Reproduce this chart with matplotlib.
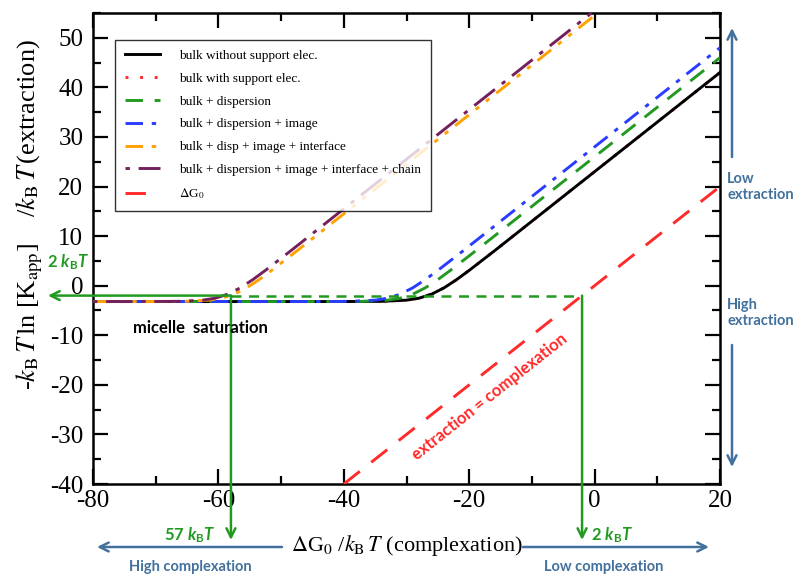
import matplotlib
matplotlib.use("Agg")
import matplotlib.pyplot as plt
from matplotlib.ticker import MultipleLocator

plt.rcParams['font.family'] = ['Liberation Serif', 'DejaVu Serif']
plt.rcParams['axes.unicode_minus'] = False
plt.rcParams['mathtext.fontset'] = 'custom'
plt.rcParams['mathtext.rm'] = 'Lato:bold'
plt.rcParams['mathtext.it'] = 'Lato:bold:italic'
plt.rcParams['mathtext.bf'] = 'Lato:bold'

# ---------------- data ----------------
black_x = [-80, -40, -34, -30, -28, -26, -24, -22, -20, -16, 0, 20]
black_y = [-3.2, -3.2, -3.16, -2.92, -2.52, -1.71, -0.43, 1.23, 3.09, 7.0, 23, 43]

support_x = [-80, -40, -34, -30, -28, -26, -24, -22, -20, -16, 0, 20]
support_y = [-3.2, -3.2, -3.16, -2.92, -2.52, -1.71, -0.43, 1.23, 3.09, 7.0, 23, 43]

green_x = [-80, -43, -37, -33, -31, -29, -27, -25, -23, -19, 0, 20]
green_y = [-3.2, -3.2, -3.16, -2.92, -2.52, -1.71, -0.43, 1.23, 3.09, 7.0, 26, 46]

blue_x = [-80, -45, -39, -35, -33, -31, -29, -27, -25, -21, 0, 20]
blue_y = [-3.2, -3.2, -3.16, -2.92, -2.52, -1.71, -0.43, 1.23, 3.09, 7.0, 28, 48]

orange_x = [-80, -71.5, -65.5, -61.5, -59.5, -57.5, -55.5, -53.5, -51.5, -47.5, 0.5]
orange_y = [-3.2, -3.2, -3.16, -2.92, -2.52, -1.71, -0.43, 1.23, 3.09, 7.0, 55]

purple_x = [-80, -72.5, -66.5, -62.5, -60.5, -58.5, -56.5, -54.5, -52.5, -48.5, -0.5]
purple_y = [-3.2, -3.2, -3.16, -2.92, -2.52, -1.71, -0.43, 1.23, 3.09, 7.0, 55]

dg0_x = [-40, 20]
dg0_y = [-40, 20]

labels = ["bulk without support elec.", "bulk with support elec.", "bulk + dispersion",
          "bulk + dispersion + image", "bulk + disp + image + interface",
          "bulk + dispersion + image + interface + chain", r"$\Delta$G$_0$"]

sat_level = -2          # horizontal guide level
sat_x_left = -58        # 57 kBT guide
sat_x_right = -2        # 2 kBT guide

xticks = [-80, -60, -40, -20, 0, 20]
yticks = [-40, -30, -20, -10, 0, 10, 20, 30, 40, 50]

# ---------------- figure ----------------
W, H = 797, 577
fig = plt.figure(figsize=(W / 100, H / 100), dpi=100)
ax = fig.add_axes([93 / W, 1 - 484 / H, (720 - 93) / W, (484 - 13) / H])

GREEN = '#229a22'
BLUE = '#2a3cff'
ORANGE = '#ffa200'
PURPLE = '#74205c'
RED = '#ff2a2a'
STEEL = '#41719c'
lw = 2.1

h = []
h += ax.plot(support_x, support_y, color=RED, lw=lw, ls=(0, (1, 4)), zorder=2)
h += ax.plot(black_x, black_y, color='black', lw=lw, ls='-', zorder=3)
h += ax.plot(green_x, green_y, color=GREEN, lw=lw, ls=(0, (6, 4)), zorder=3)
h += ax.plot(blue_x, blue_y, color=BLUE, lw=lw, ls=(0, (6, 3, 1.5, 3)), zorder=3)
h += ax.plot(orange_x, orange_y, color=ORANGE, lw=lw, ls=(0, (6, 3, 1.5, 3, 1.5, 3)), zorder=3)
h += ax.plot(purple_x, purple_y, color=PURPLE, lw=lw, ls=(0, (1.5, 3, 9, 3)), zorder=3)
h += ax.plot(dg0_x, dg0_y, color=RED, lw=lw, ls=(0, (7, 5)), zorder=3)
order = [1, 0, 2, 3, 4, 5, 6]
handles = [h[i] for i in order]

ax.set_xlim(-80, 20)
ax.set_ylim(-40, 55)
ax.set_xticks(xticks)
ax.set_yticks(yticks)
ax.xaxis.set_minor_locator(MultipleLocator(10))
ax.yaxis.set_minor_locator(MultipleLocator(5))
ax.tick_params(which='both', direction='in', top=True, right=True, width=1.6)
ax.tick_params(which='major', length=11, labelsize=18)
ax.tick_params(axis='y', which='major', pad=7)
ax.tick_params(axis='x', which='major', pad=4)
ax.tick_params(which='minor', length=5.5)
for s in ax.spines.values():
    s.set_linewidth(1.8)

leg = ax.legend(handles, labels, loc='upper left', bbox_to_anchor=(0.035, 0.943),
                borderaxespad=0, fontsize=9.5, frameon=True, fancybox=False,
                edgecolor='black', handlelength=2.7, handletextpad=1.4,
                labelspacing=0.8, borderpad=0.75)
leg.get_frame().set_linewidth(1.0)
for t in leg.get_texts():
    t.set_math_fontfamily('stix')

# axis labels
xl = ax.set_xlabel(r"$\Delta$G$_0$ /$k_{\rm B}\,T$ (complexation)", fontsize=16,
                   math_fontfamily='stix')
ax.xaxis.set_label_coords(0.5, (484 - 545) / 471)
xl.set_va('center')
yl = ax.set_ylabel(r"-$k_{\rm B}\,T\,$ln [K$_{\rm app}$]    /$k_{\rm B}\,T\,$(extraction)",
                   fontsize=19, math_fontfamily='stix')
ax.yaxis.set_label_coords((30 - 93) / 627, (484 - 215) / 471)
yl.set_va('center')

# green guide lines
ax.plot([sat_x_left, sat_x_right], [sat_level, sat_level], color=GREEN, lw=1.8,
        ls=(0, (4, 3)), zorder=4)
arrow_g = dict(arrowstyle='->', color=GREEN, lw=1.8, mutation_scale=16, shrinkA=0, shrinkB=0)
ax.annotate('', xy=(48 / W, sat_level), xycoords=('figure fraction', 'data'),
            xytext=(sat_x_left, sat_level), textcoords='data',
            arrowprops=arrow_g, annotation_clip=False, zorder=5)
ax.annotate('', xy=(sat_x_left, 1 - 540 / H), xycoords=('data', 'figure fraction'),
            xytext=(sat_x_left, sat_level), textcoords='data',
            arrowprops=arrow_g, annotation_clip=False, zorder=5)
ax.annotate('', xy=(sat_x_right, 1 - 540 / H), xycoords=('data', 'figure fraction'),
            xytext=(sat_x_right, sat_level), textcoords='data',
            arrowprops=arrow_g, annotation_clip=False, zorder=5)

sans = ['Lato', 'DejaVu Sans']
fig.text(68 / W, 1 - 262 / H, r"2 $k_{\rm B}T$", color=GREEN, fontsize=12,
         family=sans, weight='bold', ha='center', va='center')
fig.text(190 / W, 1 - 535 / H, r"57 $k_{\rm B}T$", color=GREEN, fontsize=12,
         family=sans, weight='bold', ha='center', va='center')
fig.text(612 / W, 1 - 535 / H, r"2 $k_{\rm B}T$", color=GREEN, fontsize=12,
         family=sans, weight='bold', ha='center', va='center')

fig.text(200 / W, 1 - 328 / H, "micelle  saturation", color='black', fontsize=12,
         family=sans, weight='bold', ha='center', va='center')
ax.text(-16.7, -22.4, "extraction = complexation", color=RED, fontsize=12,
        family=sans, weight='bold', ha='center', va='center', rotation=38.4,
        rotation_mode='anchor')

# blue arrows bottom
arrow_b = dict(arrowstyle='->', color=STEEL, lw=1.8, mutation_scale=16, shrinkA=0, shrinkB=0)
fig.add_artist(matplotlib.patches.FancyArrowPatch((282 / W, 1 - 547 / H), (97 / W, 1 - 547 / H),
               transform=fig.transFigure, **arrow_b))
fig.add_artist(matplotlib.patches.FancyArrowPatch((523 / W, 1 - 547 / H), (709 / W, 1 - 547 / H),
               transform=fig.transFigure, **arrow_b))
fig.text(190 / W, 1 - 567 / H, "High complexation", color=STEEL, fontsize=10.5,
         family=sans, weight='bold', ha='center', va='center')
fig.text(604 / W, 1 - 567 / H, "Low complexation", color=STEEL, fontsize=10.5,
         family=sans, weight='bold', ha='center', va='center')

# blue arrows right
fig.add_artist(matplotlib.patches.FancyArrowPatch((732 / W, 1 - 157 / H), (732 / W, 1 - 28 / H),
               transform=fig.transFigure, **arrow_b))
fig.add_artist(matplotlib.patches.FancyArrowPatch((732 / W, 1 - 345 / H), (732 / W, 1 - 467 / H),
               transform=fig.transFigure, **arrow_b))
fig.text(727 / W, 1 - 187 / H, "Low\nextraction", color=STEEL, fontsize=10.5,
         family=sans, weight='bold', ha='left', va='center', linespacing=1.1)
fig.text(727 / W, 1 - 313 / H, "High\nextraction", color=STEEL, fontsize=10.5,
         family=sans, weight='bold', ha='left', va='center', linespacing=1.1)

fig.savefig("out.png", dpi=100)
